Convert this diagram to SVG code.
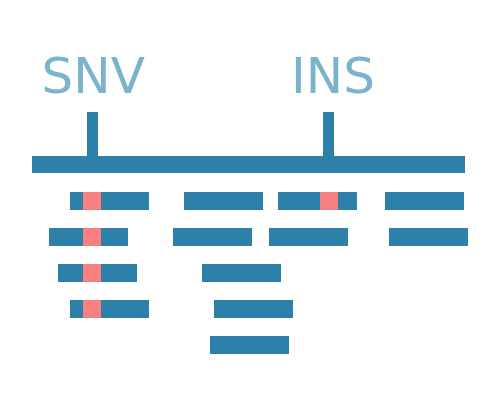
<svg xmlns="http://www.w3.org/2000/svg" width="500" height="400" viewBox="0 0 500 400">
<style>
.lbl{font-family:"DejaVu Sans",sans-serif;font-size:50px;fill:#7ab3cb}
.bar{fill:#2c80aa}
.read{fill:#2c80aa}
.var{fill:#f88080}
</style>
<rect width="500" height="400" fill="#ffffff"/>
<g id="reference">
<rect class="bar" x="32" y="156" width="433" height="17"/>
</g>
<g id="snv">
<text class="lbl" x="41.5" y="93">SNV</text>
<rect class="bar" x="87" y="112" width="11" height="44"/>
</g>
<g id="ins">
<text class="lbl" x="291" y="93">INS</text>
<rect class="bar" x="323" y="112" width="11" height="44"/>
</g>
<g id="reads">
<rect class="read" x="70" y="192" width="79" height="18"/>
<rect class="read" x="184" y="192" width="79" height="18"/>
<rect class="read" x="278" y="192" width="79" height="18"/>
<rect class="read" x="385" y="192" width="79" height="18"/>
<rect class="read" x="49" y="228" width="79" height="18"/>
<rect class="read" x="173" y="228" width="79" height="18"/>
<rect class="read" x="269" y="228" width="79" height="18"/>
<rect class="read" x="389" y="228" width="79" height="18"/>
<rect class="read" x="58" y="264" width="79" height="18"/>
<rect class="read" x="202" y="264" width="79" height="18"/>
<rect class="read" x="70" y="300" width="79" height="18"/>
<rect class="read" x="214" y="300" width="79" height="18"/>
<rect class="read" x="210" y="336" width="79" height="18"/>
</g>
<g id="variants">
<rect class="var" x="83" y="192" width="18" height="18"/>
<rect class="var" x="320" y="192" width="18" height="18"/>
<rect class="var" x="83" y="228" width="18" height="18"/>
<rect class="var" x="83" y="264" width="18" height="18"/>
<rect class="var" x="83" y="300" width="18" height="18"/>
</g>
</svg>
